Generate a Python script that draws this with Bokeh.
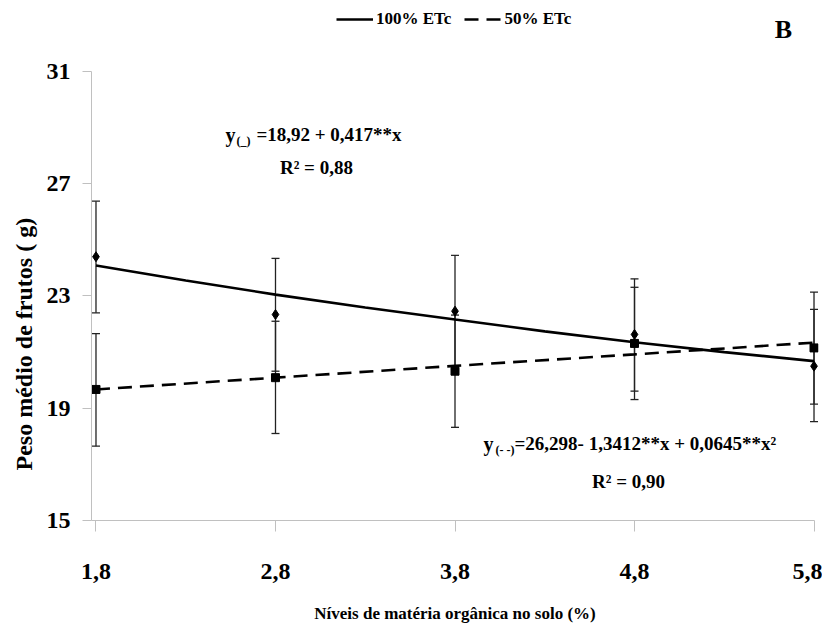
from bokeh.plotting import figure
from bokeh.models import (Range1d, FixedTicker, Whisker, TeeHead, ColumnDataSource,
                          Legend, LegendItem, Label, Title)
from bokeh.embed import file_html
from bokeh.resources import INLINE

# ---- data ----
x_levels = [1.8, 2.8, 3.8, 4.8, 5.8]
x_tick_labels = ["1,8", "2,8", "3,8", "4,8", "5,8"]
y_ticks = [15, 19, 23, 27, 31]

# 100% ETc (diamonds, solid fitted curve)
mean_100 = [24.40, 22.34, 22.46, 21.63, 20.50]
upper_100 = [26.38, 24.34, 24.45, 23.61, 22.52]
lower_100 = [22.40, 20.32, 20.46, 19.61, 18.52]

# 50% ETc (squares, dashed fitted line)
mean_50 = [19.67, 20.09, 20.32, 21.31, 21.15]
upper_50 = [21.66, 22.10, 22.32, 23.31, 23.14]
lower_50 = [17.65, 18.10, 18.32, 19.31, 19.15]

# fitted curves
fit_x_100 = [1.8, 2.3, 2.8, 3.3, 3.8, 4.3, 4.8, 5.3, 5.8]
fit_y_100 = [24.09, 23.55, 23.05, 22.59, 22.16, 21.74, 21.35, 21.00, 20.68]
fit_x_50 = [1.8, 2.8, 3.8, 4.8, 5.8]
fit_y_50 = [19.67, 20.09, 20.51, 20.92, 21.34]

FONT = "Liberation Serif"

p = figure(frame_width=727, frame_height=520,
           x_range=Range1d(1.775, 5.825), y_range=Range1d(15, 33.53),
           output_backend="svg", toolbar_location=None,
           min_border_left=91, min_border_top=0, min_border_bottom=113,
           min_border_right=4)
p.grid.visible = False
p.outline_line_color = None
p.background_fill_color = "white"

# axes
xa = p.xaxis[0]
xa.ticker = FixedTicker(ticks=x_levels)
xa.major_label_overrides = {v: s for v, s in zip(x_levels, x_tick_labels)}
xa.bounds = (1.775, 5.8)
xa.major_tick_out = 11
xa.major_tick_in = 0
xa.minor_tick_line_color = None
xa.axis_line_color = "#c0c0c0"
xa.major_tick_line_color = "#c0c0c0"
xa.major_label_text_font = FONT
xa.major_label_text_font_style = "bold"
xa.major_label_text_font_size = "24px"
xa.major_label_text_color = "black"
xa.major_label_standoff = 32
xa.axis_label = "Níveis de matéria orgânica no solo (%)"
xa.axis_label_text_font = FONT
xa.axis_label_text_font_style = "bold"
xa.axis_label_text_font_size = "17px"
xa.axis_label_text_color = "black"
xa.axis_label_standoff = 22

ya = p.yaxis[0]
ya.ticker = FixedTicker(ticks=y_ticks)
ya.bounds = (15, 31)
ya.major_tick_out = 9
ya.major_tick_in = 0
ya.minor_tick_line_color = None
ya.axis_line_color = "#c0c0c0"
ya.major_tick_line_color = "#c0c0c0"
ya.major_label_text_font = FONT
ya.major_label_text_font_style = "bold"
ya.major_label_text_font_size = "24px"
ya.major_label_text_color = "black"
ya.major_label_standoff = 12

# y-axis title (side title, so it can sit on the 15–31 span)
p.add_layout(Title(text="Peso médio de frutos ( g)", align="left", offset=50,
                   text_font=FONT, text_font_style="bold", text_font_size="24px",
                   text_color="black", standoff=14), "left")

# fitted curves
r100 = p.line(fit_x_100, fit_y_100, line_color="black", line_width=2.6)
r50 = p.line(fit_x_50, fit_y_50, line_color="black", line_width=2.6, line_dash="14 8")

# error bars
src100 = ColumnDataSource(dict(x=x_levels, upper=upper_100, lower=lower_100))
src50 = ColumnDataSource(dict(x=x_levels, upper=upper_50, lower=lower_50))
for src in (src100, src50):
    w = Whisker(source=src, base="x", upper="upper", lower="lower",
                line_color="#222222", line_width=1.3,
                upper_head=TeeHead(size=8, line_color="#222222", line_width=1.3),
                lower_head=TeeHead(size=8, line_color="#222222", line_width=1.3))
    p.add_layout(w)

# markers
p.scatter(x_levels, mean_100, marker="diamond", size=10, color="black")
p.scatter(x_levels, mean_50, marker="square", size=8, color="black")

# legend
legend = Legend(items=[LegendItem(label="100% ETc", renderers=[r100]),
                       LegendItem(label="50% ETc", renderers=[r50])],
                location=(245, 491), orientation="horizontal",
                border_line_color=None, background_fill_alpha=0,
                padding=0, margin=0, glyph_width=37, glyph_height=20,
                label_standoff=3, spacing=13,
                label_text_font=FONT, label_text_font_style="bold",
                label_text_font_size="17px", label_text_color="black")
p.add_layout(legend)

# panel letter
p.add_layout(Label(x=5.63, y=32.5, text="B", text_font=FONT, text_font_style="bold",
                   text_font_size="26px", text_align="center", text_baseline="middle",
                   text_color="black"))

# equations
def eq(x, y, main, sub, sub_off, main_off):
    p.add_layout(Label(x=x, y=y, text="y", text_font=FONT, text_font_style="bold",
                       text_font_size="20px", text_baseline="middle", text_color="black"))
    p.add_layout(Label(x=x, y=y, x_offset=sub_off, y_offset=-6, text=sub, text_font=FONT,
                       text_font_style="bold", text_font_size="12px", text_baseline="middle",
                       text_color="black"))
    p.add_layout(Label(x=x, y=y, x_offset=main_off, text=main, text_font=FONT,
                       text_font_style="bold", text_font_size="19px", text_baseline="middle",
                       text_color="black"))

eq(2.521, 28.75, "=18,92 + 0,417**x", "(_)", 11, 31)
p.add_layout(Label(x=3.028, y=27.58, text="R² = 0,88", text_font=FONT, text_font_style="bold",
                   text_font_size="19px", text_align="center", text_baseline="middle",
                   text_color="black"))
eq(3.959, 17.74, "=26,298- 1,3412**x + 0,0645**x²", "(- -)", 12, 31)
p.add_layout(Label(x=4.767, y=16.39, text="R² = 0,90", text_font=FONT, text_font_style="bold",
                   text_font_size="19px", text_align="center", text_baseline="middle",
                   text_color="black"))

open("out.html", "w").write(file_html(p, INLINE))
